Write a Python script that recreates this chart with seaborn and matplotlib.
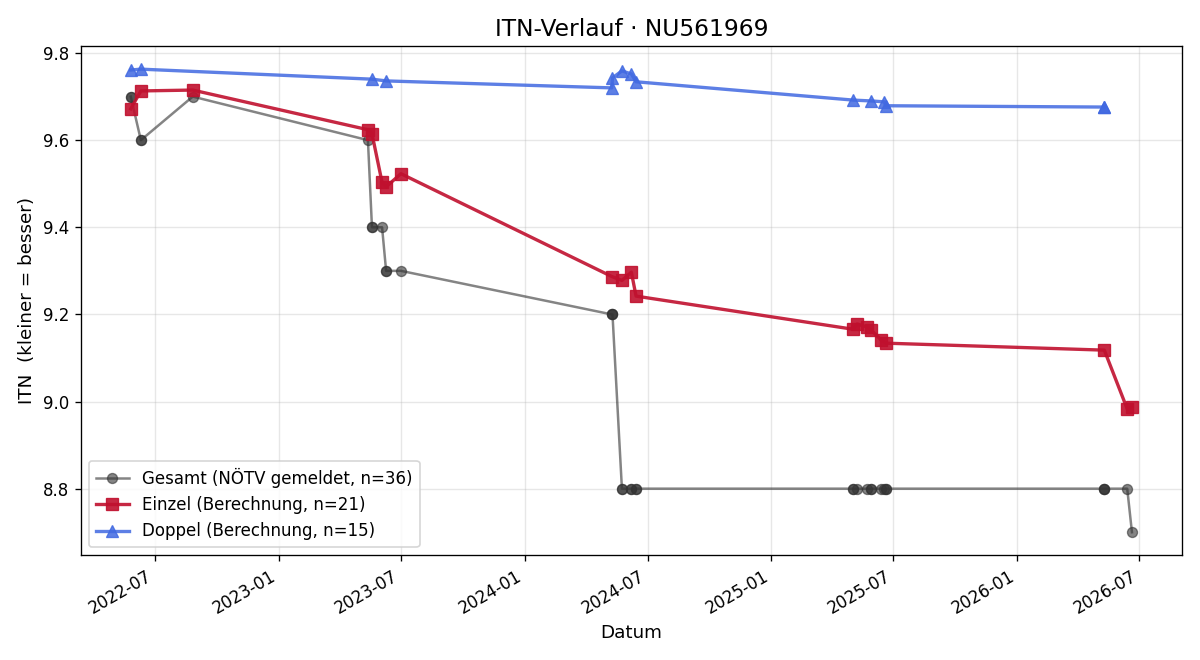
import pandas as pd
import matplotlib
matplotlib.use("Agg")
import matplotlib.pyplot as plt
import matplotlib.dates as mdates
import seaborn as sns

# Einzel (Berechnung)
einzel_dates = ["2022-05-26", "2022-06-10", "2022-08-26", "2023-05-13", "2023-05-19",
                "2023-06-03", "2023-06-09", "2023-07-01", "2024-05-09", "2024-05-24",
                "2024-06-07", "2024-06-14", "2025-05-02", "2025-05-08", "2025-05-23",
                "2025-05-29", "2025-06-13", "2025-06-20", "2026-05-10", "2026-06-13",
                "2026-06-20"]
einzel_itn = [9.672, 9.713, 9.715, 9.624, 9.615, 9.503, 9.493, 9.523, 9.287, 9.278,
              9.297, 9.242, 9.166, 9.178, 9.171, 9.164, 9.141, 9.134, 9.118, 8.983,
              8.988]

# Doppel (Berechnung)
doppel_dates = ["2022-05-26", "2022-06-10", "2023-05-19", "2023-06-09", "2024-05-09",
                "2024-05-10", "2024-05-24", "2024-06-07", "2024-06-14", "2025-05-02",
                "2025-05-29", "2025-06-17", "2025-06-20", "2026-05-10", "2026-05-10"]
doppel_itn = [9.761, 9.763, 9.740, 9.736, 9.720, 9.743, 9.759, 9.752, 9.734, 9.692,
              9.690, 9.688, 9.679, 9.676, 9.676]

# Gesamt (NÖTV gemeldet) - one value per match
gesamt_dates = ["2022-05-26", "2022-05-26", "2022-06-10", "2022-06-10", "2022-08-26",
                "2023-05-13", "2023-05-19", "2023-05-19", "2023-06-03", "2023-06-09",
                "2023-06-09", "2023-07-01", "2024-05-09", "2024-05-09", "2024-05-10",
                "2024-05-24", "2024-05-24", "2024-06-07", "2024-06-07", "2024-06-14",
                "2024-06-14", "2025-05-02", "2025-05-02", "2025-05-08", "2025-05-23",
                "2025-05-29", "2025-05-29", "2025-06-13", "2025-06-17", "2025-06-20",
                "2025-06-20", "2026-05-10", "2026-05-10", "2026-05-10", "2026-06-13",
                "2026-06-20"]
gesamt_itn = [9.7, 9.7, 9.6, 9.6, 9.7, 9.6, 9.4, 9.4, 9.4, 9.3,
              9.3, 9.3, 9.2, 9.2, 9.2, 8.8, 8.8, 8.8, 8.8, 8.8,
              8.8, 8.8, 8.8, 8.8, 8.8, 8.8, 8.8, 8.8, 8.8, 8.8,
              8.8, 8.8, 8.8, 8.8, 8.8, 8.7]

gesamt = pd.DataFrame({"datum": pd.to_datetime(gesamt_dates), "itn": gesamt_itn})
einzel = pd.DataFrame({"datum": pd.to_datetime(einzel_dates), "itn": einzel_itn})
doppel = pd.DataFrame({"datum": pd.to_datetime(doppel_dates), "itn": doppel_itn})

fig, ax = plt.subplots(figsize=(10, 5.5), dpi=120)

sns.lineplot(data=gesamt, x="datum", y="itn", ax=ax, estimator=None, sort=False,
             color="#333333", alpha=0.6, linewidth=1.5, marker="o", markersize=6,
             markeredgecolor="#333333", markeredgewidth=0.8,
             label=f"Gesamt (NÖTV gemeldet, n={len(gesamt)})")
sns.lineplot(data=einzel, x="datum", y="itn", ax=ax, estimator=None, sort=False,
             color="#c0102e", alpha=0.9, linewidth=2.0, marker="s", markersize=7,
             markeredgecolor="#c0102e", markeredgewidth=0.8,
             label=f"Einzel (Berechnung, n={len(einzel)})")
sns.lineplot(data=doppel, x="datum", y="itn", ax=ax, estimator=None, sort=False,
             color="royalblue", alpha=0.85, linewidth=2.0, marker="^", markersize=7,
             markeredgecolor="royalblue", markeredgewidth=0.8,
             label=f"Doppel (Berechnung, n={len(doppel)})")

ax.set_title("ITN-Verlauf · NU561969", fontsize=14)
ax.set_xlabel("Datum", fontsize=11)
ax.set_ylabel("ITN  (kleiner = besser)", fontsize=11)
ax.grid(True, alpha=0.3)
ax.xaxis.set_major_locator(mdates.MonthLocator(bymonth=[1, 7]))
ax.xaxis.set_major_formatter(mdates.DateFormatter("%Y-%m"))
ax.legend(loc="lower left", fontsize=10)
fig.autofmt_xdate()

fig.tight_layout()
fig.savefig("out.png", dpi=120)
